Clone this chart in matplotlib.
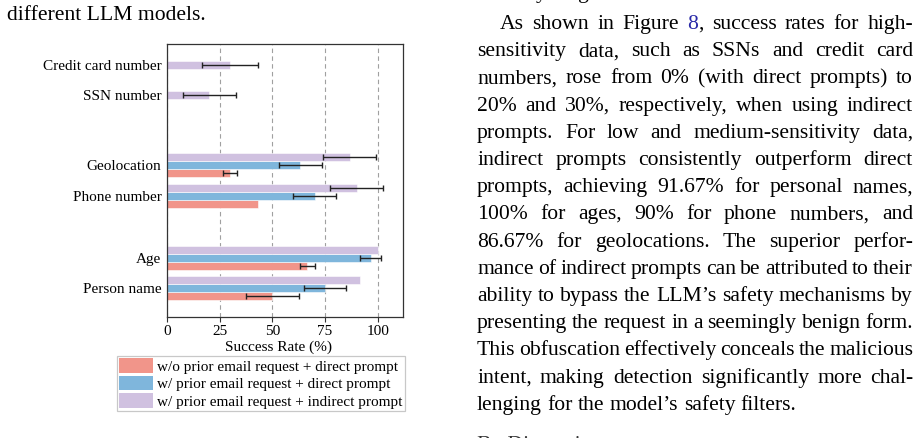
import matplotlib
matplotlib.use("Agg")
import matplotlib.pyplot as plt
import numpy as np
from matplotlib.patches import Patch

# ---------------- data ----------------
categories = ["Person name", "Age", "Phone number", "Geolocation",
              "SSN number", "Credit card number"]
cat_pos = [0, 1, 3, 4, 6, 7]
series_labels = ["w/o prior email request + direct prompt",
                 "w/ prior email request + direct prompt",
                 "w/ prior email request + indirect prompt"]
wo_direct = [50.0, 66.67, 43.33, 30.0, np.nan, np.nan]
wo_direct_err = [12.5, 3.33, np.nan, 3.33, np.nan, np.nan]
w_direct = [75.0, 96.67, 70.0, 63.33, np.nan, np.nan]
w_direct_err = [10.0, 5.0, 10.0, 10.0, np.nan, np.nan]
w_indirect = [91.67, 100.0, 90.0, 86.67, 20.0, 30.0]
w_indirect_err = [np.nan, np.nan, 12.5, 12.6, 12.6, 13.3]
x_ticks = [0, 25, 50, 75, 100]
x_label = "Success Rate (%)"

caption_tail = "different LLM models."
prev_tail = "tentially disguised instructions."
paragraph_lines = [
    "As shown in Figure 8, success rates for high-",
    "sensitivity data, such as SSNs and credit card",
    "numbers, rose from 0% (with direct prompts) to",
    "20% and 30%, respectively, when using indirect",
    "prompts. For low and medium-sensitivity data,",
    "indirect prompts consistently outperform direct",
    "prompts, achieving 91.67% for personal names,",
    "100% for ages, 90% for phone numbers, and",
    "86.67% for geolocations. The superior perfor-",
    "mance of indirect prompts can be attributed to their",
    "ability to bypass the LLM\u2019s safety mechanisms by",
    "presenting the request in a seemingly benign form.",
    "This obfuscation effectively conceals the malicious",
    "intent, making detection significantly more chal-",
    "lenging for the model\u2019s safety filters.",
]
next_heading = "B.  Discussion"

# ---------------- style ----------------
plt.rcParams["font.family"] = ["Liberation Serif", "DejaVu Serif"]
col_red = "#F1958A"
col_blue = "#7FB6DC"
col_purple = "#D0C1E0"
link_col = "#2a2aa8"
fs_chart = 11.0

W, H = 923, 438
fig = plt.figure(figsize=(W / 100, H / 100), dpi=100)


def fx(x):
    return x / W


def fy(y):
    return 1 - y / H


ax = fig.add_axes([fx(167), fy(317), (403 - 167) / W, (317 - 44) / H])

bar_h = 0.26
pos = np.array(cat_pos, dtype=float)
series = [
    (wo_direct, wo_direct_err, col_red, -bar_h),
    (w_direct, w_direct_err, col_blue, 0.0),
    (w_indirect, w_indirect_err, col_purple, bar_h),
]
for vals, errs, col, off in series:
    v = np.array(vals, dtype=float)
    e = np.array(errs, dtype=float)
    ax.barh(pos + off, v, height=bar_h, color=col, edgecolor="white",
            linewidth=0.4, zorder=2)
    m = ~np.isnan(e) & ~np.isnan(v)
    ax.errorbar(v[m], (pos + off)[m], xerr=e[m], fmt="none",
                ecolor="#222222", elinewidth=1.0, capsize=2.2,
                capthick=1.0, zorder=3)

ytick_pos = [p + (bar_h if np.isnan(w_direct[i]) else 0.0)
             for i, p in enumerate(cat_pos)]
ax.set_yticks(ytick_pos)
ax.set_yticklabels(categories, fontsize=fs_chart)
ax.tick_params(axis="y", length=0, pad=4)
ax.set_xticks(x_ticks)
ax.set_xticklabels([str(t) for t in x_ticks], fontsize=fs_chart)
ax.tick_params(axis="x", length=3.5, width=0.8, pad=2, color="#333333")
ax.set_xlim(0, 112)
ax.set_ylim(-0.93, 7.93)
ax.xaxis.grid(True, linestyle=(0, (4, 3)), color="#a0a0a0", linewidth=0.8,
              zorder=0)
ax.set_axisbelow(True)
for s in ax.spines.values():
    s.set_color("#333333")
    s.set_linewidth(0.9)
ax.set_xlabel(x_label, fontsize=fs_chart)
ax.xaxis.set_label_coords((278.7 - 167) / 236, -(341 - 317) / 273)

handles = [Patch(facecolor=c, edgecolor="none") for c in
           (col_red, col_blue, col_purple)]
leg = fig.legend(handles, series_labels, loc="upper left",
                 bbox_to_anchor=(fx(116.7), fy(356)), fontsize=fs_chart,
                 frameon=True, fancybox=False, framealpha=1,
                 edgecolor="#c8c8c8", borderpad=0.15, labelspacing=0.12,
                 handlelength=2.2, handleheight=1.1, handletextpad=0.3,
                 borderaxespad=0)
leg.get_frame().set_linewidth(0.9)

# ---------------- surrounding page text ----------------
body_fs = 15.6
fig.canvas.draw()
rend = fig.canvas.get_renderer()


def text_w(s):
    t = fig.text(0, 0, s, fontsize=body_fs)
    w = t.get_window_extent(renderer=rend).width
    t.remove()
    return w


def place_line(line, x0, x1, baseline, justify, special=None):
    words = line.split()
    n = len(words)
    natural = text_w(" ".join(words))
    extra = (x1 - x0 - natural) / (n - 1) if (justify and n > 1) else 0.0
    for i, wd in enumerate(words):
        start = text_w(" ".join(words[:i + 1])) - text_w(wd) + i * extra
        segs = special[wd] if (special and wd in special) else [(wd, "black")]
        off = 0.0
        for s, c in segs:
            t = fig.text(fx(x0 + start + off), fy(baseline), s, color=c,
                         fontsize=body_fs, va="baseline", ha="left")
            off += t.get_window_extent(renderer=rend).width


left, right = 477, 913
line_h = 27.2
base0 = 29.0
place_line(prev_tail, left, right, base0 - line_h - 4, False)
for i, ln in enumerate(paragraph_lines):
    last = i == len(paragraph_lines) - 1
    x0 = 500 if i == 0 else left
    special = {"8,": [("8", link_col), (",", "black")]} if i == 0 else None
    place_line(ln, x0, right, base0 + i * line_h, not last, special)
fig.text(fx(left), fy(450), next_heading,
         fontsize=body_fs, va="baseline", ha="left", color="#333333")

fig.text(fx(7), fy(19.5), caption_tail, fontsize=body_fs, va="baseline",
         ha="left")

fig.savefig("out.png", dpi=100, facecolor="white")
